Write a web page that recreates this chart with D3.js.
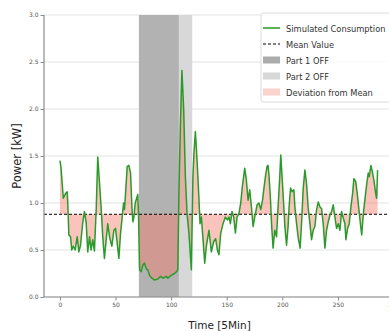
<!DOCTYPE html>
<html>
<head>
<meta charset="utf-8">
<script src="https://cdn.jsdelivr.net/npm/d3@7"></script>
<style>
  body { margin: 0; background: #fff; }
  svg { display: block; font-family: "DejaVu Sans", sans-serif; }
</style>
</head>
<body>
<div id="chart"></div>
<script>
// time steps (5 min) and power values
const times = [0, 1, 2, 3, 5, 6.5, 7, 8, 9.5, 10.6, 12, 13.7, 15.5, 17, 18.5, 20.5, 22, 23.6, 25, 26.6, 28, 29.5, 31, 32.6, 34, 35.6, 37, 38.5, 40, 41.6, 43, 44.6, 46.7, 48.5, 50, 51.5, 53, 54.5, 56, 57.2, 58, 59, 60.5, 62, 63.5, 64.7, 65.6, 66.5, 67.7, 69, 70, 70.7, 71.6, 73, 74.6, 76, 77.6, 79, 80.6, 82.7, 85, 88, 90.5, 92.6, 95.7, 97, 100, 103, 105, 106, 107, 108.3, 109.7, 111.3, 112.8, 114.3, 116, 118.2, 119.6, 120.5, 121.8, 123.3, 124.8, 126, 127.2, 128.7, 130.2, 131.7, 134, 136.2, 138.3, 140, 141.6, 143, 144.6, 146.7, 148.8, 150.6, 152, 153.3, 154.8, 156.3, 157.8, 159.3, 161, 162.6, 164, 166.2, 167.7, 169.2, 170.7, 172.2, 173.7, 175.2, 177.3, 179, 180.6, 182.2, 183.6, 185, 186.3, 187.2, 188.1, 189.4, 190.3, 191.7, 193.2, 194.8, 196.2, 197.7, 198.6, 199.8, 201, 202.3, 203.8, 205.2, 206.1, 207.4, 208.8, 210.4, 211.3, 212.8, 214.2, 216, 217.3, 218.7, 220.3, 221.8, 223.2, 224.8, 226.3, 227.8, 229.3, 230.8, 232.3, 233.8, 235.3, 236.8, 238.3, 239.8, 241.3, 242.8, 244.3, 245.8, 247.3, 248.8, 250.3, 251.8, 253.3, 254.8, 256.3, 257.2, 258.7, 260.2, 261.7, 263.2, 264.4, 266, 267.4, 268.9, 270.5, 271.4, 272.9, 274.4, 276, 277.3, 278.2, 279.7, 281, 282.4, 284, 284.8, 285.7];
const power = [1.45, 1.37, 1.21, 1.05, 1.10, 1.12, 1.01, 0.66, 0.64, 0.50, 0.54, 0.50, 0.64, 0.48, 0.55, 0.79, 0.91, 0.79, 0.48, 0.64, 0.50, 0.61, 0.49, 0.93, 1.49, 1.21, 0.96, 0.64, 0.41, 0.61, 0.78, 0.64, 0.54, 0.71, 0.73, 0.57, 0.41, 0.68, 0.85, 1.00, 0.93, 1.10, 1.39, 1.40, 1.32, 0.96, 0.80, 0.85, 1.00, 1.05, 1.09, 0.85, 0.29, 0.27, 0.34, 0.36, 0.30, 0.29, 0.23, 0.20, 0.18, 0.19, 0.22, 0.20, 0.22, 0.20, 0.23, 0.25, 0.27, 0.29, 1.10, 1.81, 2.41, 1.99, 1.28, 0.89, 0.68, 0.29, 1.28, 1.53, 1.76, 1.46, 1.10, 0.78, 0.85, 0.61, 0.36, 0.54, 0.71, 0.48, 0.59, 0.62, 0.50, 0.45, 0.68, 0.78, 0.85, 0.82, 0.85, 0.78, 0.91, 0.85, 0.68, 0.85, 0.89, 1.00, 1.17, 1.37, 1.24, 1.03, 1.14, 0.96, 0.75, 0.85, 0.98, 1.00, 0.93, 1.03, 1.17, 1.30, 1.39, 1.40, 1.28, 1.03, 0.78, 0.52, 0.71, 0.64, 0.96, 1.28, 1.51, 1.28, 1.03, 0.75, 0.55, 0.75, 0.96, 1.16, 1.12, 1.14, 0.96, 0.78, 0.64, 0.52, 0.78, 1.14, 1.35, 1.21, 0.96, 0.78, 0.61, 0.71, 0.75, 0.93, 1.01, 0.96, 0.94, 0.78, 0.52, 0.71, 0.80, 0.87, 0.91, 0.98, 0.85, 0.73, 0.78, 0.71, 0.91, 0.84, 0.78, 0.61, 0.73, 0.78, 0.96, 1.10, 1.26, 1.23, 1.10, 0.93, 0.75, 0.66, 0.89, 1.05, 1.21, 1.32, 1.28, 1.40, 1.33, 1.24, 1.10, 1.05, 1.35];
const meanValue = 0.88;
const part1 = [71, 107];
const part2 = [107, 119];
const xTicks = [0, 50, 100, 150, 200, 250, 300];
const yTicks = [0, 0.5, 1.0, 1.5, 2.0, 2.5, 3.0];
const legendLabels = ['Simulated Consumption', 'Mean Value', 'Part 1 OFF', 'Part 2 OFF', 'Deviation from Mean'];

const width = 389, height = 331;
const margin = { left: 44, right: 395, top: 15, bottom: 297 };

const data = times.map((t, i) => ({ t: t, v: power[i] }));

const svg = d3.select('#chart').append('svg')
  .attr('width', width)
  .attr('height', height);

const x = d3.scaleLinear().domain([-14.35, 301.35]).range([margin.left, margin.right]);
const y = d3.scaleLinear().domain([0, 3]).range([margin.bottom, margin.top]);

// horizontal grid
svg.append('g')
  .selectAll('line')
  .data(yTicks)
  .join('line')
  .attr('x1', margin.left).attr('x2', margin.right)
  .attr('y1', d => y(d)).attr('y2', d => y(d))
  .attr('stroke', '#e3e3e3')
  .attr('stroke-width', 1);

// OFF spans
svg.append('rect')
  .attr('x', x(part1[0])).attr('width', x(part1[1]) - x(part1[0]))
  .attr('y', margin.top).attr('height', margin.bottom - margin.top)
  .attr('fill', '#b2b2b2');
svg.append('rect')
  .attr('x', x(part2[0])).attr('width', x(part2[1]) - x(part2[0]))
  .attr('y', margin.top).attr('height', margin.bottom - margin.top)
  .attr('fill', '#d8d8d8');

// deviation from the mean
svg.append('path')
  .datum(data)
  .attr('fill', '#f47c6c')
  .attr('fill-opacity', 0.45)
  .attr('d', d3.area()
    .x(d => x(d.t))
    .y0(y(meanValue))
    .y1(d => y(d.v)));

// mean line
svg.append('line')
  .attr('x1', margin.left).attr('x2', margin.right)
  .attr('y1', y(meanValue)).attr('y2', y(meanValue))
  .attr('stroke', '#000')
  .attr('stroke-width', 1)
  .attr('stroke-dasharray', '3,2');

// consumption
svg.append('path')
  .datum(data)
  .attr('fill', 'none')
  .attr('stroke', '#2a9a2a')
  .attr('stroke-width', 1.5)
  .attr('stroke-linejoin', 'round')
  .attr('d', d3.line().x(d => x(d.t)).y(d => y(d.v)));

// axes
const yAxis = svg.append('g')
  .attr('transform', `translate(${margin.left},0)`)
  .call(d3.axisLeft(y).tickValues(yTicks).tickFormat(d3.format('.1f')).tickSize(3.5).tickPadding(2));
const xAxis = svg.append('g')
  .attr('transform', `translate(0,${margin.bottom})`)
  .call(d3.axisBottom(x).tickValues(xTicks).tickSize(3.5).tickPadding(2));
[xAxis, yAxis].forEach(a => {
  a.select('.domain').attr('stroke', '#8c8c8c').attr('stroke-width', 1.2);
  a.selectAll('.tick line').attr('stroke', '#8c8c8c');
  a.selectAll('.tick text').attr('fill', '#555').style('font-size', '6px').style('font-family', '"DejaVu Sans", sans-serif');
});
xAxis.select('.domain').attr('d', `M${margin.left},0H${margin.right}`);
yAxis.select('.domain').attr('d', `M0,${margin.bottom}V${margin.top}`);

// labels
svg.append('text')
  .attr('transform', `translate(21,${(margin.top + margin.bottom) / 2}) rotate(-90)`)
  .attr('text-anchor', 'middle')
  .attr('font-size', 11.5)
  .attr('fill', '#222')
  .text('Power [kW]');
svg.append('text')
  .attr('x', (margin.left + margin.right) / 2)
  .attr('y', 329)
  .attr('text-anchor', 'middle')
  .attr('font-size', 10.5)
  .attr('fill', '#222')
  .text('Time [5Min]');

// legend
const lg = svg.append('g').attr('transform', 'translate(261,13)');
lg.append('rect')
  .attr('width', 140).attr('height', 89)
  .attr('rx', 2)
  .attr('fill', '#fff').attr('fill-opacity', 0.85)
  .attr('stroke', '#dcdcdc');
legendLabels.forEach((label, i) => {
  const gy = 15 + i * 16;
  const row = lg.append('g').attr('transform', `translate(0,${gy})`);
  if (i === 0) {
    row.append('line').attr('x1', 2).attr('x2', 19).attr('stroke', '#2a9a2a').attr('stroke-width', 1.5);
  } else if (i === 1) {
    row.append('line').attr('x1', 2).attr('x2', 19).attr('stroke', '#000').attr('stroke-width', 1).attr('stroke-dasharray', '3,2');
  } else {
    const fills = ['#acacac', '#d8d8d8', '#fcd2cc'];
    row.append('rect').attr('x', 2).attr('y', -3.5).attr('width', 17).attr('height', 7).attr('fill', fills[i - 2]);
  }
  row.append('text')
    .attr('x', 25).attr('y', 3.5)
    .attr('font-size', 8.3)
    .attr('fill', '#333')
    .text(label);
});
</script>
</body>
</html>
